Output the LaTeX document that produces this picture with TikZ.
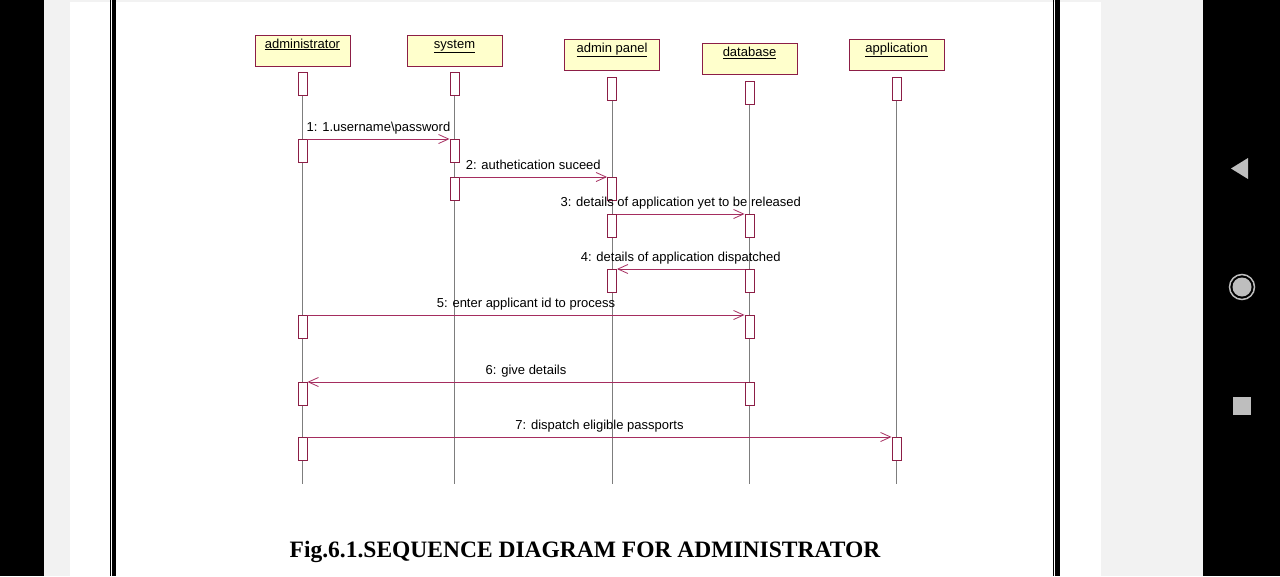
\documentclass[tikz,border=0pt]{standalone}
\usepackage{fontspec}
\setmainfont{Liberation Serif}
\newfontfamily\umlfont{Liberation Sans}
\usetikzlibrary{arrows.meta}
\usetikzlibrary{positioning}

\definecolor{umlred}{RGB}{165,45,95}
\definecolor{barred}{RGB}{140,30,70}
\definecolor{umlyellow}{RGB}{255,255,204}
\definecolor{lifegray}{RGB}{125,125,125}
\definecolor{screengray}{RGB}{242,242,242}
\definecolor{navgray}{RGB}{190,190,190}

\begin{document}
\begin{tikzpicture}[x=1pt,y=-1pt]

\tikzset{
  % boxes at the head of each lifeline
  headbox/.style={draw=barred, fill=umlyellow, minimum width=95pt, minimum height=31pt,
    inner sep=0pt, text height=9pt, text depth=14pt, font=\umlfont\fontsize{13}{15}\selectfont},
  % activation bars
  actbar/.style={draw=barred, fill=white, line width=0.9pt, minimum width=9pt,
    minimum height=23pt, inner sep=0pt, anchor=north},
  lifeline/.style={draw=lifegray, line width=0.8pt},
  msg/.style={draw=umlred, line width=0.8pt, -{Straight Barb[length=10pt,width=9pt]}},
  msglabel/.style={anchor=base, yshift=7.5pt, inner sep=0pt, font=\umlfont\fontsize{13}{15}\selectfont},
}

\useasboundingbox (0,0) rectangle (1280,576);

% screen around the page
\fill[black] (0,0) rectangle (44,576);
\fill[screengray] (44,0) rectangle (70,576);
\fill[screengray] (70,0) rectangle (1101,2);
\fill[screengray] (1101,0) rectangle (1203,576);
\fill[black] (1203,0) rectangle (1280,576);
\fill[black] (109.5,0) rectangle (110.5,576);
\fill[black] (112,0) rectangle (116,576);
\fill[black] (1052.5,0) rectangle (1053.5,576);
\fill[black] (1055,0) rectangle (1060,576);
\fill[navgray] (1248,158) -- (1248,179) -- (1231,168.5) -- cycle;
\draw[navgray, line width=1.5pt] (1242,287) circle (12.5);
\fill[navgray] (1242,287) circle (9.5);
\fill[navgray] (1233,397) rectangle (1251,415);

% lifeline heads
\node[headbox] (admin) at (302.5,50.5) {\underline{administrator}};
\node[headbox] (sys) at (454.5,50.5) {\underline{system}};
\node[headbox] (panel) at (612,55) {\underline{admin panel}};
\node[headbox] (db) at (749.5,59) {\underline{database}};
\node[headbox] (app) at (896.5,55) {\underline{application}};

\node[actbar, below=6pt of admin] (admin0) {};
\node[actbar, below=6pt of sys] (sys0) {};
\node[actbar, below=6pt of panel] (panel0) {};
\node[actbar, below=6pt of db] (db0) {};
\node[actbar, below=6pt of app] (app0) {};

\coordinate (bottom) at (0,484);
\foreach \n in {admin0,sys0,panel0,db0,app0}
  \draw[lifeline] (\n.south) -- (\n.south |- bottom);

% activation bars along the messages
\node[actbar] (admin1) at (admin0 |- 0,139) {};
\node[actbar] (sys1) at (sys0 |- 0,139) {};
\node[actbar] (sys2) at (sys0 |- 0,177) {};
\node[actbar] (panel2) at (panel0 |- 0,177) {};
\node[actbar] (panel3) at (panel0 |- 0,214) {};
\node[actbar] (db3) at (db0 |- 0,214) {};
\node[actbar] (panel4) at (panel0 |- 0,269) {};
\node[actbar] (db4) at (db0 |- 0,269) {};
\node[actbar] (admin5) at (admin0 |- 0,315) {};
\node[actbar] (db5) at (db0 |- 0,315) {};
\node[actbar] (admin6) at (admin0 |- 0,382) {};
\node[actbar] (db6) at (db0 |- 0,382) {};
\node[actbar] (admin7) at (admin0 |- 0,437) {};
\node[actbar] (app7) at (app0 |- 0,437) {};

% messages
\draw[msg] (admin1.north east) -- node[msglabel] {1: 1.username\textbackslash password} (sys1.north west);
\draw[msg] (sys2.north east) -- node[msglabel] {2: authetication suceed} (panel2.north west);
\draw[msg] (panel3.north east) -- node[msglabel] {3: details of application yet to be released} (db3.north west);
\draw[msg] (db4.north west) -- node[msglabel] {4: details of application dispatched} (panel4.north east);
\draw[msg] (admin5.north east) -- node[msglabel] {5: enter applicant id to process} (db5.north west);
\draw[msg] (db6.north west) -- node[msglabel] {6: give details} (admin6.north east);
\draw[msg] (admin7.north east) -- node[msglabel] {7: dispatch eligible passports} (app7.north west);

\node[anchor=base, font=\bfseries\fontsize{23.5}{26}\selectfont] (caption) at (585,557.5)
  {Fig.6.1.SEQUENCE DIAGRAM FOR ADMINISTRATOR};

\end{tikzpicture}
\end{document}
